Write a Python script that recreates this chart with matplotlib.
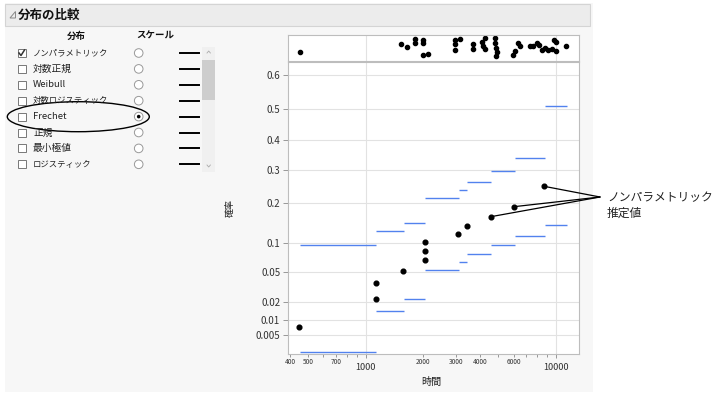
import numpy as np
import matplotlib
matplotlib.use('Agg')
import matplotlib.pyplot as plt
from matplotlib.patches import Rectangle, Circle, Ellipse, Polygon
from matplotlib.ticker import FixedLocator, FixedFormatter, NullFormatter

plt.rcParams['font.family'] = ['Noto Sans CJK JP', 'DejaVu Sans']

# ---- データ ----
# ノンパラメトリック推定値 (時間, 確率)
est_time = [445, 1135, 1135, 1580, 2050, 2050, 2050, 3060, 3410, 4560, 6040, 8680]
est_prob = [0.0072, 0.0217, 0.0365, 0.0512, 0.0673, 0.0841, 0.1013, 0.1194, 0.1384, 0.1614, 0.1888, 0.2496]

# 信頼区間 (階段)
band_edges = [450, 1135, 1585, 2050, 2065, 3095, 3412, 4590, 6095, 8740, 11420]
band_upper = [0.0946, 0.1263, 0.1444, 0.1936, 0.214, 0.238, 0.262, 0.298, 0.340, 0.510]
band_lower = [0.0, 0.0142, 0.0217, 0.0419, 0.0526, 0.065, 0.078, 0.0946, 0.1142, 0.140]

# 上段のデータ点 (時間, ジッター)
obs_time = [454, 1535, 1650, 1818, 1818, 2002, 2002, 2010, 2130, 2959, 2959, 2959, 3144,
            3692, 3692, 4087, 4167, 4253, 4266, 4800, 4800, 4859, 4899, 4859, 5988, 6091,
            6362, 6494, 7328, 7626, 7946, 8202, 8444, 8786, 9144, 9528, 9797, 10037, 10037, 11325]
obs_jit = [0.32, 0.65, 0.52, 0.83, 0.68, 0.79, 0.69, 0.22, 0.25, 0.80, 0.64, 0.41, 0.84,
           0.64, 0.45, 0.71, 0.55, 0.87, 0.45, 0.87, 0.68, 0.48, 0.32, 0.16, 0.22, 0.35,
           0.68, 0.55, 0.55, 0.55, 0.68, 0.61, 0.41, 0.48, 0.41, 0.45, 0.80, 0.71, 0.35, 0.55]

yticks = [0.005, 0.01, 0.02, 0.05, 0.1, 0.2, 0.3, 0.4, 0.5, 0.6]
ytick_labels = ['0.005', '0.01', '0.02', '0.05', '0.1', '0.2', '0.3', '0.4', '0.5', '0.6']
x_major = [1000, 10000]
x_minor = [400, 500, 600, 700, 800, 900, 2000, 3000, 4000, 5000, 6000, 7000, 8000, 9000]
x_minor_labels = ['400', '500', '', '700', '', '', '2000', '3000', '4000', '', '6000', '', '', '']

dist_names = ['ノンパラメトリック', '対数正規', 'Weibull', '対数ロジスティック',
              'Frechet', '正規', '最小極値', 'ロジスティック']
checked = [True, False, False, False, False, False, False, False]
scale_sel = 4

xlim = (391, 13260)
ylim = (0.0019, 0.635)
blue = '#5282ee'

# ラベルの文字サイズ (参照画像の幅に合わせる)
label_fs = {'ノンパラメトリック': 6.0, '対数正規': 7, 'Weibull': 6.8, '対数ロジスティック': 6.0,
            'Frechet': 6.8, '正規': 7, '最小極値': 7, 'ロジスティック': 6.0}


def fwd(p):
    p = np.clip(np.asarray(p, dtype=float), 1e-12, 1 - 1e-12)
    return -np.log(-np.log(p))


def inv(v):
    return np.exp(-np.exp(-np.asarray(v, dtype=float)))


fig = plt.figure(figsize=(7.2, 3.94), dpi=100)
fig.patch.set_facecolor('white')

# 背景 (ピクセル座標)
bg = fig.add_axes([0, 0, 1, 1])
bg.set_xlim(0, 720)
bg.set_ylim(394, 0)
bg.axis('off')
bg.add_patch(Rectangle((5, 3), 588, 389, fc='#f7f7f7', ec='none'))
bg.add_patch(Rectangle((5, 4), 585, 21.5, fc='#ececec', ec='#d4d4d4', lw=0.8))
bg.add_patch(Polygon([(10, 18), (15.5, 18), (15.5, 11.5)], closed=True, fc='none', ec='#888888', lw=0.7))
bg.text(18, 15, '分布の比較', fontsize=9, fontweight='bold', va='center', ha='left', color='#111111')

bg.text(76, 36, '分布', fontsize=6.8, fontweight='bold', ha='center', va='center', color='#111111')
bg.text(155, 36, 'スケール', fontsize=6.8, fontweight='bold', ha='center', va='center', color='#111111')

for i, name in enumerate(dist_names):
    ry = 53 + 15.9 * i
    bg.add_patch(Rectangle((17.5, ry - 4), 8, 8, fc='white', ec='#777777', lw=0.7))
    if checked[i]:
        bg.plot([19, 21, 24.5], [ry, ry + 2.5, ry - 3], color='#333333', lw=1.1)
    bg.text(33, ry, name, fontsize=label_fs[name], ha='left', va='center', color='#222222')
    bg.add_patch(Circle((138.7, ry), 4.3, fc='white', ec='#999999', lw=0.7))
    if i == scale_sel:
        bg.add_patch(Circle((138.7, ry), 1.8, fc='black', ec='none'))
    bg.plot([180, 199], [ry, ry], color='black', lw=1.4)

# スクロールバー
bg.add_patch(Rectangle((202, 46.5), 13, 125, fc='#f0f0f0', ec='none'))
bg.add_patch(Rectangle((202, 60), 13, 40, fc='#cdcdcd', ec='none'))
bg.plot([207, 208.7, 210.4], [53, 51, 53], color='#aaaaaa', lw=0.6)
bg.plot([207, 208.7, 210.4], [165, 167, 165], color='#aaaaaa', lw=0.6)

bg.add_patch(Ellipse((78.3, 116.7), 142, 30, fc='none', ec='black', lw=1.0))

bg.text(230, 208, '確率', fontsize=6.5, rotation=90, ha='center', va='center', color='#222222')
bg.text(431.7, 382, '時間', fontsize=7.3, ha='center', va='center', color='#222222')

bg.text(607, 197.5, 'ノンパラメトリック', fontsize=8.5, ha='left', va='center', color='#222222')
bg.text(607, 213.3, '推定値', fontsize=8.5, ha='left', va='center', color='#222222')

# メインプロット
ax = fig.add_axes([288 / 720, (394 - 354) / 394, 291 / 720, 292 / 394])
ax.set_xscale('log')
ax.set_yscale('function', functions=(fwd, inv))
ax.set_xlim(*xlim)
ax.set_ylim(*ylim)
ax.set_facecolor('white')

lower_plot = np.maximum(band_lower, ylim[0] * 1.1)
ax.hlines(band_upper, band_edges[:-1], band_edges[1:], color=blue, lw=1.0, zorder=3)
ax.hlines(lower_plot, band_edges[:-1], band_edges[1:], color=blue, lw=1.0, zorder=3)
ax.plot(est_time, est_prob, 'o', color='black', ms=3.4, zorder=4)

ax.yaxis.set_major_locator(FixedLocator(yticks))
ax.yaxis.set_major_formatter(FixedFormatter(ytick_labels))
ax.yaxis.set_minor_locator(FixedLocator([]))
ax.tick_params(axis='y', which='major', length=3.6, width=0.6, color='#888888',
               labelsize=7, pad=2, labelcolor='#333333')

ax.xaxis.set_major_locator(FixedLocator(x_major))
ax.xaxis.set_major_formatter(FixedFormatter(['1000', '10000']))
ax.xaxis.set_minor_locator(FixedLocator(x_minor))
ax.xaxis.set_minor_formatter(FixedFormatter(x_minor_labels))
ax.tick_params(axis='x', which='major', length=3, width=0.6, color='#888888',
               labelsize=6.6, pad=3.4, labelcolor='#333333')
ax.tick_params(axis='x', which='minor', length=2.2, width=0.6, color='#888888',
               labelsize=4.7, pad=0.6, labelcolor='#333333')

ax.grid(True, which='major', color='#e2e2e2', lw=0.8)
ax.set_axisbelow(True)
for s in ax.spines.values():
    s.set_color('#bdbdbd')
    s.set_linewidth(0.8)

# 注釈線
for i in [-1, -2, -3]:
    ax.annotate('', xy=(est_time[i], est_prob[i]), xycoords='data',
                xytext=(600, 394 - 197), textcoords='figure pixels',
                arrowprops=dict(arrowstyle='-', color='black', lw=0.9, shrinkA=0, shrinkB=2),
                annotation_clip=False)

# 上段
ax2 = fig.add_axes([288 / 720, (394 - 60.5) / 394, 291 / 720, 25.8 / 394])
ax2.set_xscale('log')
ax2.set_xlim(*xlim)
ax2.set_ylim(0, 1)
ax2.set_facecolor('white')
ax2.plot(obs_time, obs_jit, 'o', color='black', ms=3.0)
ax2.xaxis.set_major_locator(FixedLocator(x_major))
ax2.xaxis.set_minor_locator(FixedLocator([]))
ax2.xaxis.set_major_formatter(NullFormatter())
ax2.set_yticks([])
ax2.tick_params(axis='x', length=0)
ax2.grid(True, axis='x', color='#e2e2e2', lw=0.8)
ax2.set_axisbelow(True)
for s in ax2.spines.values():
    s.set_color('#bdbdbd')
    s.set_linewidth(0.8)

fig.savefig('out.png', dpi=100)
